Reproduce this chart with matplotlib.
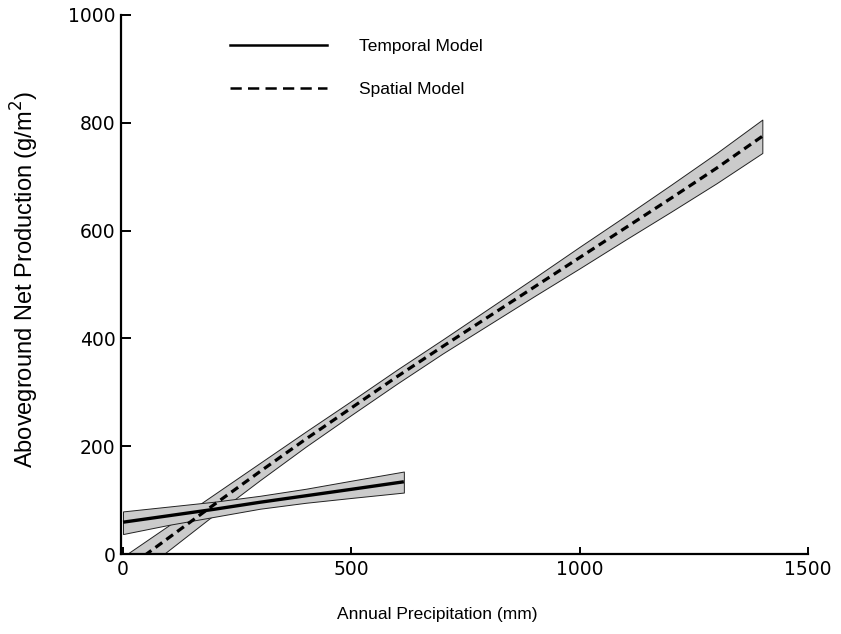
import matplotlib
matplotlib.use("Agg")
import matplotlib.pyplot as plt
from matplotlib.lines import Line2D
import numpy as np

# ---- data ----
temporal_x = [0, 100, 200, 300, 400, 500, 615]
temporal_y = [59, 71, 83, 96, 108, 120, 134]
temporal_upper = [79, 88, 97, 108, 121, 136, 153]
temporal_lower = [37, 54, 69, 84, 95, 104, 114]

spatial_x = [0, 100, 200, 300, 400, 500, 600, 700, 800, 900, 1000, 1100, 1200, 1300, 1400]
spatial_y = [-32, 30, 92, 153, 213, 271, 329, 385, 440, 495, 550, 605, 660, 716, 775]
spatial_hw = [27, 23, 19, 16, 14, 13, 13, 13, 15, 17, 20, 22, 25, 28, 31]

x_ticks = [0, 500, 1000, 1500]
x_ticklabels = ["0", "500", "1000", "1500"]
y_ticks = [0, 200, 400, 600, 800, 1000]
y_ticklabels = ["0", "200", "400", "600", "800", "1000"]

legend_labels = ["Temporal Model", "Spatial Model"]
x_label = "Annual Precipitation (mm)"
y_label = r"Aboveground Net Production (g/m$^2$)"

# ---- figure ----
W, H = 841, 634
fig = plt.figure(figsize=(W / 100, H / 100), dpi=100)
ax = fig.add_axes([121 / W, 80 / H, (808 - 121) / W, (554 - 15) / H])

sp_y = np.array(spatial_y, dtype=float)
sp_hw = np.array(spatial_hw, dtype=float)

band_face = "#cbcbcb"
ax.fill_between(spatial_x, sp_y - sp_hw, sp_y + sp_hw, facecolor=band_face,
                edgecolor="#222222", linewidth=0.7, zorder=2)
ax.fill_between(temporal_x, temporal_lower, temporal_upper, facecolor=band_face,
                edgecolor="#222222", linewidth=0.7, zorder=2)

ax.plot(spatial_x, spatial_y, color="black", lw=2.3, dashes=(2.6, 1.6), zorder=3)
ax.plot(temporal_x, temporal_y, color="black", lw=2.4, solid_capstyle="butt", zorder=3)

ax.set_xlim(-4.4, 1500)
ax.set_ylim(0, 1000)

for s in ["top", "right"]:
    ax.spines[s].set_visible(False)
for s in ["left", "bottom"]:
    ax.spines[s].set_linewidth(1.6)

ax.set_xticks(x_ticks)
ax.set_xticklabels(x_ticklabels)
ax.set_yticks(y_ticks)
ax.set_yticklabels(y_ticklabels)
ax.tick_params(axis="x", direction="in", length=5, width=1.4, pad=4, labelsize=13.5)
ax.tick_params(axis="y", direction="in", length=7, width=1.4, pad=4, labelsize=13.5)

handles = [Line2D([], [], color="black", lw=1.8),
           Line2D([], [], color="black", lw=1.8, dashes=(4.5, 2.5))]
leg = ax.legend(handles, legend_labels, loc="upper left", frameon=False,
                bbox_to_anchor=((233 - 121) / (808 - 121) - 0.005, (554 - 39) / (554 - 15)),
                handlelength=5.6, handletextpad=1.85, labelspacing=1.6,
                prop={"family": "Liberation Sans", "size": 12.5},
                borderaxespad=0, borderpad=0)

fig.text(437 / W, 1 - 615 / H, x_label, ha="center", va="center",
         fontsize=12.5, family="Liberation Sans")
fig.text(25 / W, 1 - 279 / H, y_label, ha="center", va="center", rotation=90,
         fontsize=17, family="Liberation Sans")

fig.savefig("out.png", dpi=100)
